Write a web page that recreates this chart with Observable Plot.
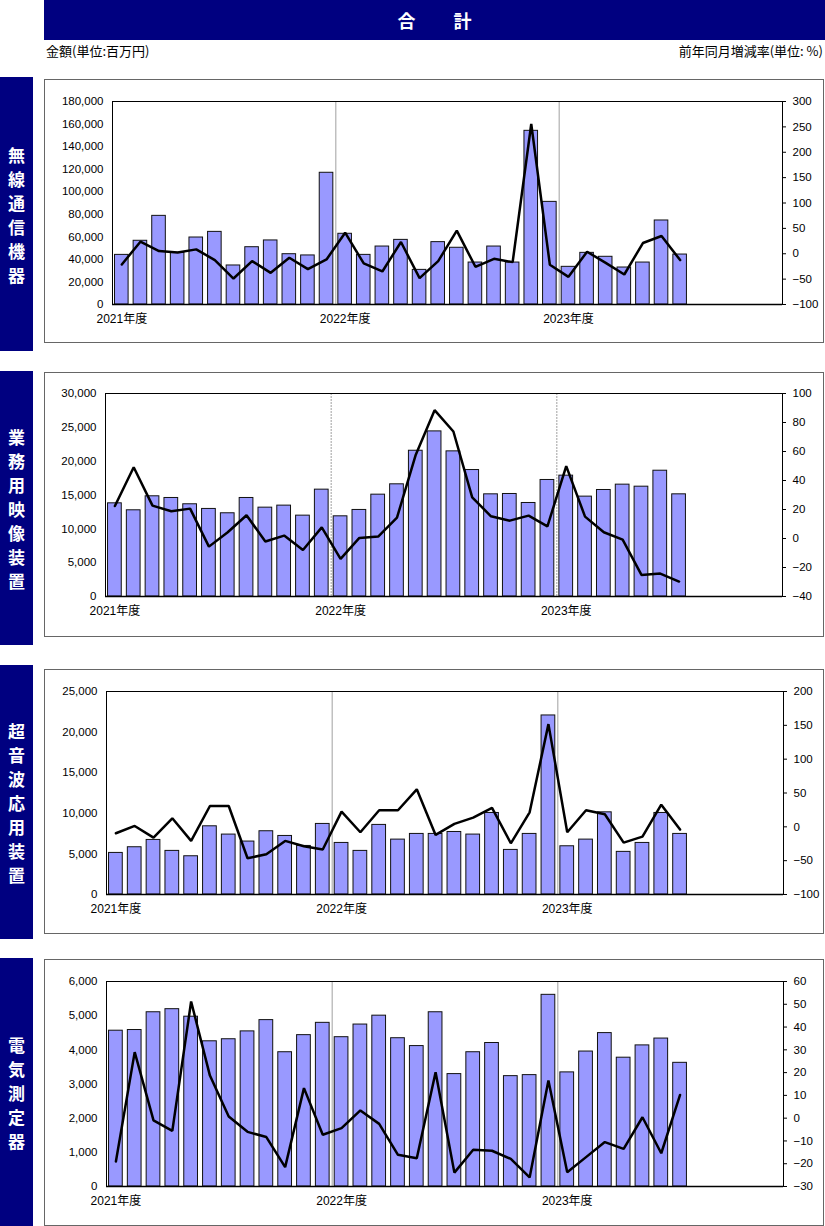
<!DOCTYPE html>
<html><head><meta charset="utf-8">
<script src="https://cdn.jsdelivr.net/npm/d3@7"></script>
<script src="https://cdn.jsdelivr.net/npm/@observablehq/plot@0.6"></script>
<style>
body{margin:0;background:#fff;font-family:"Liberation Sans","Noto Sans CJK JP",sans-serif;}
#root{position:relative;width:825px;height:1226px;overflow:hidden;}
.title{position:absolute;left:44px;top:0;width:781px;height:40px;background:#000080;color:#fff;
  font:bold 18px "Noto Sans CJK JP";display:flex;align-items:center;justify-content:center;letter-spacing:10px;padding-left:10px;box-sizing:border-box;}
.sub{position:absolute;top:41px;font:13px "Noto Sans CJK JP";color:#000;}
.side{position:absolute;left:0;width:33px;background:#000080;display:flex;align-items:center;justify-content:center;}
.side span{writing-mode:vertical-rl;text-orientation:upright;color:#fff;font:bold 17px "Noto Sans CJK JP";letter-spacing:7px;margin-top:9px;}
.frame{position:absolute;left:44px;width:780px;border:1px solid #666;box-sizing:border-box;background:#fff;}
.frame svg{position:absolute;left:0;top:0;}
</style>
</head><body><div id="root"></div>
<script>
// ---- data (fiscal-year months, Apr 2021 .. Oct 2023) ----
const yearLabels = ["2021年度", "2022年度", "2023年度"];
const yearStarts = [0, 12, 24];
const yearBoundaries = [12, 24];
const slotCount = 36;

const panelNames = ["無線通信機器", "業務用映像装置", "超音波応用装置", "電気測定器"];

const radioAmount = [44000,56500,78600,45800,59400,64400,34600,50800,56800,44600,43500,116800,62700,44000,51400,57300,30700,55300,50300,37200,51400,37200,154000,91000,33400,45800,42300,32800,37200,74500,44300];
const radioYoY = [-21.1,23.7,5.3,2.6,8.6,-12.5,-48.8,-14.5,-37.6,-7.9,-30.3,-11.2,41.5,-19.1,-34.9,23.1,-48.1,-14.5,45.5,-25.7,-9.9,-16.5,255.7,-21.7,-45.5,4.0,-18.0,-40.9,21.1,34.9,-12.5];

const videoAmount = [13770,12740,14810,14560,13630,12940,12300,14560,13130,13430,11950,15790,11850,12790,15050,16580,21540,24400,21450,18690,15100,15150,13820,17220,17860,14760,15740,16530,16230,18590,15100];
const videoYoY = [22.4,49.1,22.7,18.8,20.6,-5.6,4.3,16.0,-2.1,2.0,-7.9,7.7,-14.1,0.4,1.3,14.4,57.8,88.5,73.8,28.4,15.3,12.3,15.8,8.4,49.9,15.1,4.3,-0.8,-25.1,-24.2,-29.7];

const ultraAmount = [5120,5820,6720,5370,4710,8400,7380,6520,7790,7210,5980,8690,6350,5370,8570,6760,7460,7460,7700,7380,10040,5490,7460,22050,5940,6760,10120,5250,6350,10040,7460];
const ultraYoY = [-9.5,1.3,-15.9,12.6,-20.8,30.8,30.8,-46.4,-40.5,-20.8,-28.7,-33.6,22.5,-8.0,24.5,24.5,55.4,-12.0,4.3,13.6,27.9,-24.3,21.5,151.8,-8.0,24.5,18.5,-23.3,-14.4,32.8,-4.1];

const elecAmount = [4560,4580,5100,5190,4970,4250,4310,4540,4870,3930,4430,4790,4370,4740,5000,4340,4110,5100,3290,3930,4200,3230,3260,5610,3340,3950,4490,3770,4130,4330,3620];
const elecYoY = [-19.0,29.0,-1.0,-5.6,51.2,18.7,0.7,-6.0,-8.3,-21.5,13.2,-7.3,-4.4,3.4,-2.5,-16.1,-17.6,20.2,-23.9,-13.9,-14.3,-17.9,-26.0,16.5,-23.7,-17.1,-10.5,-13.5,0.4,-15.4,10.2];

// axis ticks
const radioLeftTicks = [0,20000,40000,60000,80000,100000,120000,140000,160000,180000];
const radioRightTicks = [-100,-50,0,50,100,150,200,250,300];
const videoLeftTicks = [0,5000,10000,15000,20000,25000,30000];
const videoRightTicks = [-40,-20,0,20,40,60,80,100];
const ultraLeftTicks = [0,5000,10000,15000,20000,25000];
const ultraRightTicks = [-100,-50,0,50,100,150,200];
const elecLeftTicks = [0,1000,2000,3000,4000,5000,6000];
const elecRightTicks = [-30,-20,-10,0,10,20,30,40,50,60];

// ---- layout ----
const panels = [
  {name: panelNames[0], amount: radioAmount, yoy: radioYoY, lt: radioLeftTicks, rt: radioRightTicks,
   side: [77, 351], frame: [79, 343], plotY: [101, 304], plotX: [112, 782], dash: null},
  {name: panelNames[1], amount: videoAmount, yoy: videoYoY, lt: videoLeftTicks, rt: videoRightTicks,
   side: [371, 645], frame: [372, 637], plotY: [393, 596], plotX: [105, 782], dash: "2,1"},
  {name: panelNames[2], amount: ultraAmount, yoy: ultraYoY, lt: ultraLeftTicks, rt: ultraRightTicks,
   side: [665, 939], frame: [669, 934], plotY: [691, 894], plotX: [106, 783], dash: null},
  {name: panelNames[3], amount: elecAmount, yoy: elecYoY, lt: elecLeftTicks, rt: elecRightTicks,
   side: [958, 1226], frame: [959, 1226], plotY: [981, 1186], plotX: [106, 783], dash: null}
];

const root = document.getElementById("root");
const title = document.createElement("div");
title.className = "title"; title.textContent = "合　計";
root.appendChild(title);
const s1 = document.createElement("div"); s1.className = "sub"; s1.style.left = "46px";
s1.textContent = "金額(単位:百万円)"; root.appendChild(s1);
const s2 = document.createElement("div"); s2.className = "sub"; s2.style.right = "2px";
s2.textContent = "前年同月増減率(単位: %)"; root.appendChild(s2);

const fontFamily = "'Liberation Sans','Noto Sans CJK JP',sans-serif";
const fmt = d3.format(",");

for (const p of panels) {
  const side = document.createElement("div");
  side.className = "side";
  side.style.top = p.side[0] + "px";
  side.style.height = (p.side[1] - p.side[0]) + "px";
  const sp = document.createElement("span"); sp.textContent = p.name; side.appendChild(sp);
  root.appendChild(side);

  const frame = document.createElement("div");
  frame.className = "frame";
  frame.style.top = p.frame[0] + "px";
  frame.style.height = (p.frame[1] - p.frame[0]) + "px";
  root.appendChild(frame);

  const innerLeft = 45, innerTop = p.frame[0] + 1;
  const W = 778, H = p.frame[1] - p.frame[0] - 2;
  const margins = {
    marginLeft: p.plotX[0] - innerLeft,
    marginRight: innerLeft + W - p.plotX[1],
    marginTop: p.plotY[0] - innerTop,
    marginBottom: innerTop + H - p.plotY[1]
  };
  const data = p.amount.map((v, i) => ({i, amount: v, yoy: p.yoy[i]}));
  const style = {background: "transparent", fontSize: "11.5px", fontFamily, color: "#000", overflow: "visible"};

  const bars = Plot.plot({
    width: W, height: H, ...margins, style,
    x: {type: "band", domain: d3.range(slotCount), paddingInner: 0.27, paddingOuter: 0.135, round: false, axis: null},
    y: {domain: [p.lt[0], p.lt[p.lt.length - 1]], axis: null},
    marks: [
      Plot.barY(data, {x: "i", y: "amount", fill: "#9999ff", stroke: "#111", strokeWidth: 1}),
      Plot.axisY(p.lt, {tickSize: 0, tickPadding: 9, tickFormat: fmt, label: null}),
      Plot.axisX(yearStarts, {tickSize: 0, tickPadding: 10, tickFormat: i => yearLabels[i / 12], label: null, fontSize: "12px"})
    ]
  });
  frame.appendChild(bars);

  const line = Plot.plot({
    width: W, height: H, ...margins, style,
    x: {type: "linear", domain: [0, slotCount], axis: null},
    y: {domain: [p.rt[0], p.rt[p.rt.length - 1]], axis: null},
    marks: [
      Plot.ruleX(yearBoundaries, {stroke: "#a0a0a0", strokeWidth: 1, strokeDasharray: p.dash}),
      Plot.frame({stroke: "#000", strokeWidth: 1}),
      Plot.ruleY([p.rt[0]], {stroke: "#000", strokeWidth: 1.5}),
      Plot.lineY(data, {x: d => d.i + 0.5, y: "yoy", stroke: "#000", strokeWidth: 2.5, strokeLinejoin: "miter"}),
      Plot.axisY(p.rt, {anchor: "right", tickSize: 3, tickPadding: 7, label: null, stroke: "#000"})
    ]
  });
  frame.appendChild(line);
}
</script>
</body></html>
